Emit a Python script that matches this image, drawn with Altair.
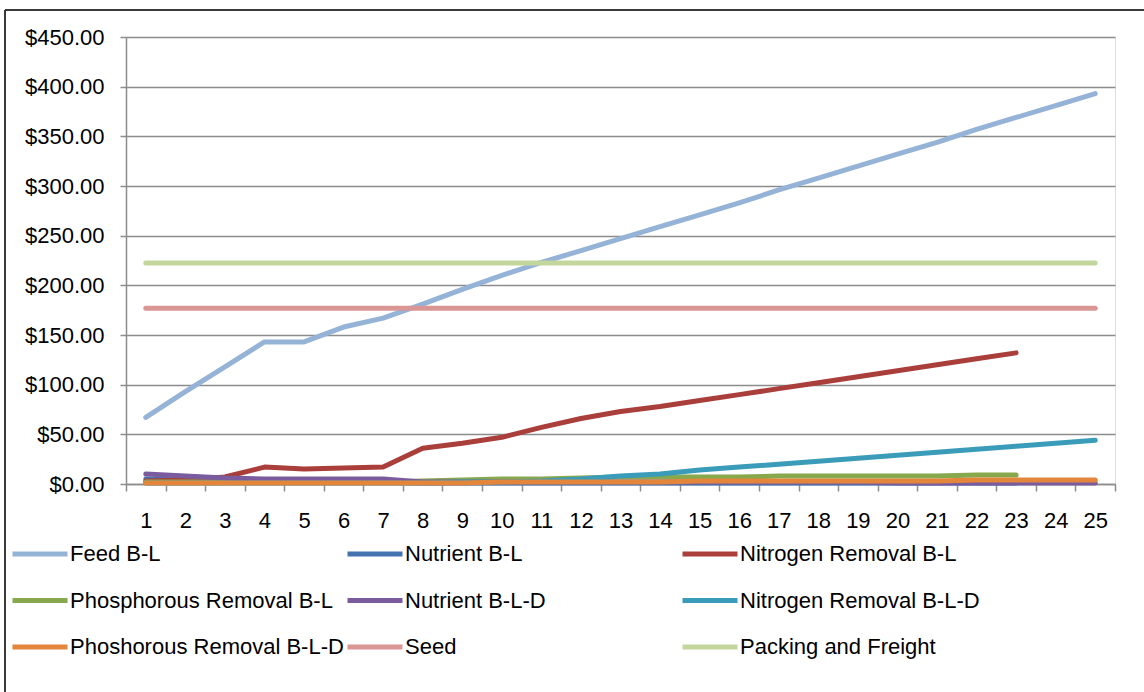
import altair as alt
import pandas as pd

periods = list(range(1, 26))

feed_bl = [67, 93, 118, 143, 143, 158, 167, 181, 196, 210, 223, 235, 247, 259, 271,
           283, 296, 308, 320, 332, 344, 357, 369, 381, 393]
nutrient_bl = [5, 4, 3, 3, 2, 2, 2, 1, 1, 1, 1, 1, 1, 1, 1, 1, 1, 1, 1, 1, 1, 1, 1]
nitrogen_bl = [3, 4, 7, 17, 15, 16, 17, 36, 41, 47, 57, 66, 73, 78, 84, 90, 96, 102,
               108, 114, 120, 126, 132]
phosph_bl = [2, 2, 2, 2, 2, 2, 2, 3, 4, 5, 5, 6, 7, 7, 7, 7, 8, 8, 8, 8, 8, 9, 9]
nutrient_bld = [10, 8, 6, 5, 5, 5, 5, 2, 2, 2, 2, 2, 2, 2, 2, 2, 2, 2, 2, 1, 1, 1, 1, 1, 1]
nitrogen_bld = [1, 1, 1, 1, 1, 1, 1, 1, 2, 2, 3, 5, 8, 10, 14, 17, 20, 23, 26, 29, 32,
                35, 38, 41, 44]
phosph_bld = [1, 1, 1, 1, 1, 1, 1, 1, 1, 2, 2, 2, 2, 2, 3, 3, 3, 3, 3, 3, 3, 4, 4, 4, 4]
seed = [177] * 25
packing = [222.5] * 25

names = ["Feed B-L", "Nutrient B-L", "Nitrogen Removal B-L",
         "Phosphorous Removal B-L", "Nutrient B-L-D", "Nitrogen Removal B-L-D",
         "Phoshorous Removal B-L-D", "Seed", "Packing and Freight"]
colors = ["#95B3D7", "#4473B0", "#AA3E3B", "#88A84D", "#7A5C9E", "#3A9CB8",
          "#E3853A", "#D99694", "#C3D69B"]
values = [feed_bl, nutrient_bl, nitrogen_bl, phosph_bl, nutrient_bld, nitrogen_bld,
          phosph_bld, seed, packing]

rows = []
for i, (name, vals) in enumerate(zip(names, values)):
    for p, v in zip(periods, vals):
        rows.append({"Period": p, "Cost": v, "Series": name, "order": i})
df = pd.DataFrame(rows)

FONT = "Liberation Sans, Arial, sans-serif"
GRID = "#8C8C8C"

lines = alt.Chart(df).mark_line(strokeWidth=5, strokeCap="round", strokeJoin="round").encode(
    x=alt.X("Period:O", bandPosition=0.5,
            scale=alt.Scale(type="band", paddingInner=0, paddingOuter=0),
            axis=alt.Axis(title=None, labelAngle=0, tickBand="extent", grid=False,
                          domainColor=GRID, domainWidth=1.5, tickColor=GRID, tickWidth=1.5,
                          tickSize=7, labelPadding=19, labelFont=FONT, labelFontSize=22,
                          labelColor="#000000")),
    y=alt.Y("Cost:Q", scale=alt.Scale(domain=[0, 450]),
            axis=alt.Axis(title=None, values=list(range(0, 451, 50)), format="$,.2f",
                          grid=True, gridColor=GRID, gridWidth=1.5, domainColor=GRID,
                          domainWidth=1.5, tickColor=GRID, tickWidth=1.5, tickSize=6,
                          labelPadding=16, labelFont=FONT, labelFontSize=22,
                          labelColor="#000000")),
    color=alt.Color("Series:N", sort=names,
                    scale=alt.Scale(domain=names, range=colors),
                    legend=alt.Legend(orient="none", legendX=-116, legendY=487,
                                      direction="horizontal", columns=3, gridAlign="all",
                                      columnPadding=-7, rowPadding=5.5, symbolType="stroke",
                                      symbolSize=3025, symbolStrokeWidth=5,
                                      labelFont=FONT, labelFontSize=22, labelColor="#000000",
                                      labelOffset=0, labelLimit=400, title=None, padding=0)),
    order=alt.Order("order:Q"),
)

border_df = pd.DataFrame({"a": [0]})
border_left = alt.Chart(border_df).mark_rule(color="#3A3A3A", strokeWidth=2).encode(
    x=alt.value(-121), y=alt.value(-27), y2=alt.value(700))
border_top = alt.Chart(border_df).mark_rule(color="#3A3A3A", strokeWidth=2).encode(
    x=alt.value(-121), x2=alt.value(1100), y=alt.value(-27))

chart = alt.layer(lines, border_left, border_top).properties(
    width=989, height=447,
    autosize=alt.AutoSizeParams(type="none"),
    padding={"left": 126, "top": 37, "right": 29, "bottom": 208},
).configure_view(stroke=None).configure(background="white")

chart.save("out.html", embed_options={"renderer": "svg", "actions": False})
